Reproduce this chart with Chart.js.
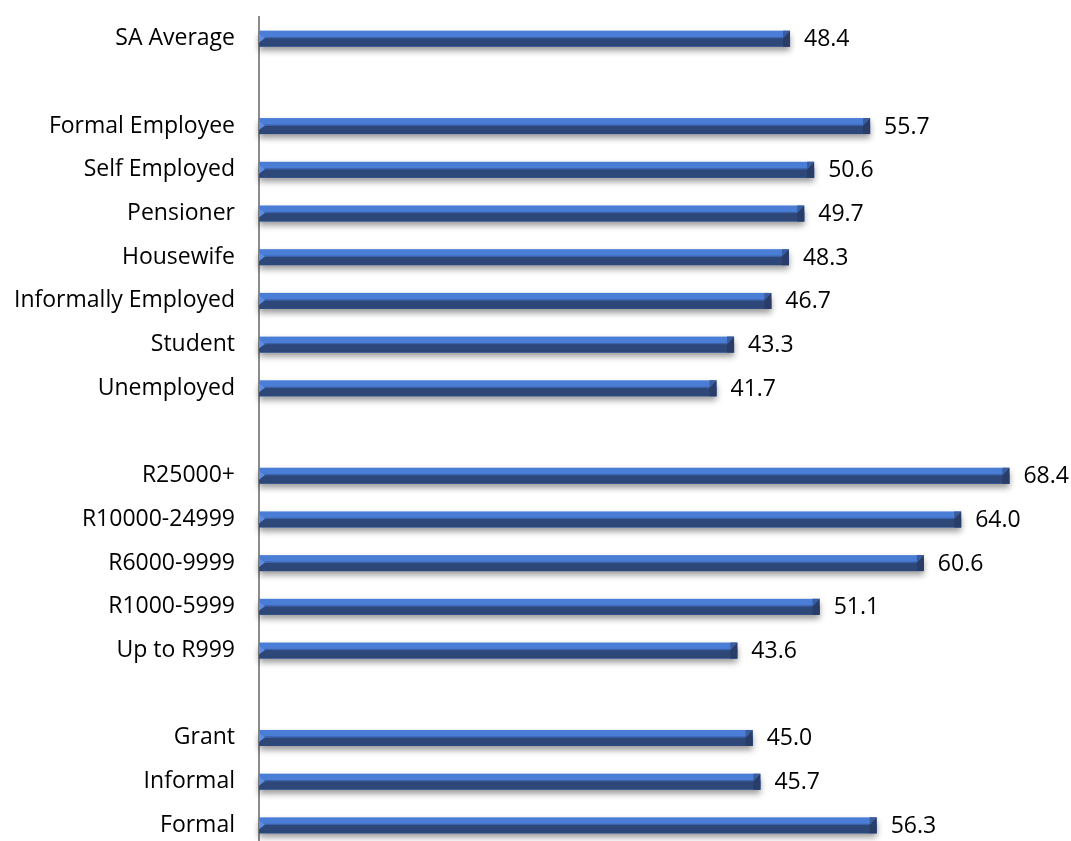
<!DOCTYPE html>
<html>
<head>
<meta charset="utf-8">
<script src="https://cdn.jsdelivr.net/npm/chart.js@4.4.0/dist/chart.umd.min.js"></script>
<style>
  html, body { margin: 0; padding: 0; background: #fff; overflow: hidden; }
  #wrap { position: relative; width: 1071px; height: 906px; margin-top: -21px; }
</style>
</head>
<body>
<div id="wrap"><canvas id="bars"></canvas></div>
<script>
// blank entries are the gaps between groups
const categories = ['SA Average', '', 'Formal Employee', 'Self Employed', 'Pensioner', 'Housewife',
    'Informally Employed', 'Student', 'Unemployed', '', 'R25000+', 'R10000-24999', 'R6000-9999',
    'R1000-5999', 'Up to R999', '', 'Grant', 'Informal', 'Formal'];
const values = [48.4, null, 55.7, 50.6, 49.7, 48.3, 46.7, 43.3, 41.7, null, 68.4, 64.0, 60.6, 51.1, 43.6,
    null, 45.0, 45.7, 56.3];

const fontFamily = '"Open Sans", "Liberation Sans", sans-serif';

// bevelled bar faces, drop shadow and value labels, drawn over the bar elements
const bevelBars = {
    id: 'bevelBars',
    afterDatasetsDraw(chart) {
        const ctx = chart.ctx;
        chart.getDatasetMeta(0).data.forEach((bar, i) => {
            if (values[i] == null) return;
            const left = bar.base, right = bar.x;
            const h = bar.height, top = bar.y - h / 2;
            const w = right - left;
            ctx.save();
            ctx.shadowColor = 'rgba(0,0,0,0.4)';
            ctx.shadowBlur = 6;
            ctx.shadowOffsetY = 4;
            ctx.fillStyle = '#4a7dd6';
            ctx.fillRect(left, top, w, h);
            ctx.restore();

            ctx.save();
            ctx.fillStyle = '#2d4779';
            ctx.fillRect(left, top + h * 0.46, w, h * 0.54);
            ctx.fillStyle = '#3d62aa';
            ctx.fillRect(left, top + h * 0.4, w, h * 0.08);
            const cap = 7;
            ctx.fillStyle = '#293d68';
            ctx.beginPath();
            ctx.moveTo(right - cap, top + h * 0.46);
            ctx.lineTo(right, top);
            ctx.lineTo(right, top + h);
            ctx.lineTo(right - cap, top + h);
            ctx.closePath();
            ctx.fill();
            ctx.fillStyle = '#3a5b9c';
            ctx.beginPath();
            ctx.moveTo(right - cap, top + h * 0.46);
            ctx.lineTo(right, top);
            ctx.lineTo(right - cap, top);
            ctx.closePath();
            ctx.fill();
            ctx.fillStyle = '#5d8ce0';
            ctx.beginPath();
            ctx.moveTo(left, top + h * 0.2);
            ctx.lineTo(left + 6, top + h * 0.46);
            ctx.lineTo(left, top + h * 0.75);
            ctx.closePath();
            ctx.fill();

            ctx.fillStyle = '#000';
            ctx.font = '23px ' + fontFamily;
            ctx.textAlign = 'left';
            ctx.textBaseline = 'middle';
            ctx.fillText(values[i].toFixed(1), right + 14, bar.y + 1);
            ctx.restore();
        });
    }
};

new Chart(document.getElementById('bars').getContext('2d'), {
    type: 'bar',
    data: {
        labels: categories,
        datasets: [{
            data: values,
            backgroundColor: 'rgba(0,0,0,0)',
            barThickness: 16
        }]
    },
    options: {
        indexAxis: 'y',
        responsive: true,
        maintainAspectRatio: false,
        animation: false,
        layout: { padding: { top: 0, right: 44, bottom: 4, left: 0 } },
        plugins: { legend: { display: false }, tooltip: { enabled: false } },
        scales: {
            x: { display: false, min: 0, max: 70 },
            y: {
                afterFit(scale) { scale.width = 259; },
                grid: { display: false, drawTicks: false },
                border: { display: true, color: '#8c8c8c', width: 2 },
                ticks: { color: '#000', padding: 24, font: { family: fontFamily, size: 23 } }
            }
        }
    },
    plugins: [bevelBars]
});
</script>
</body>
</html>
